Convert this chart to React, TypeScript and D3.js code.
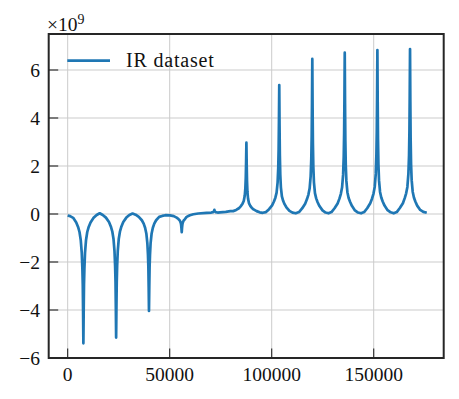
import * as d3 from "d3";

// IR dataset, values in units of 1e9
const dipSection: [number, number][] = [
  [0, -0.06], [1200, -0.09], [2700, -0.16], [4200, -0.35], [5100, -0.54], [5800, -0.75],
  [6400, -1.08], [6900, -1.62], [7200, -2.26], [7400, -2.96], [7550, -4.04], [7700, -5.39],
  [7850, -4.04], [8000, -2.96], [8200, -2.26], [8500, -1.62], [9000, -1.08], [9600, -0.75],
  [10300, -0.54], [11200, -0.35], [12700, -0.16], [14200, -0.04], [15700, 0.03],
  [17200, -0.04], [18750, -0.15], [20250, -0.33], [21150, -0.52], [21850, -0.72],
  [22450, -1.03], [22950, -1.55], [23250, -2.16], [23450, -2.83], [23600, -3.86],
  [23750, -5.15], [23900, -3.86], [24050, -2.83], [24250, -2.16], [24550, -1.55],
  [25050, -1.03], [25650, -0.72], [26350, -0.52], [27250, -0.33], [28750, -0.15],
  [30250, -0.04], [31800, 0.02],
  [33300, -0.03], [34850, -0.12], [36350, -0.26], [37250, -0.4], [37950, -0.57],
  [38550, -0.81], [39050, -1.21], [39350, -1.7], [39550, -2.22], [39700, -3.03],
  [39850, -4.04], [40000, -3.03], [40150, -2.22], [40350, -1.7], [40650, -1.21],
  [41150, -0.81], [41750, -0.57], [42450, -0.4], [43350, -0.26], [44850, -0.12],
  [46350, -0.08], [47900, -0.05], [50150, -0.06],
  [52000, -0.09], [53400, -0.15], [54300, -0.21], [55000, -0.28], [55400, -0.36],
  [55600, -0.45], [55750, -0.58], [55900, -0.76], [56050, -0.58], [56200, -0.45],
  [56400, -0.36], [56800, -0.28], [57500, -0.21], [58300, -0.12], [59900, -0.05],
  [61600, -0.01], [64000, 0.02], [68100, 0.05],
];

const flatSection: [number, number][] = [
  [70400, 0.06], [71300, 0.08], [71700, 0.11], [71900, 0.17], [72100, 0.11], [72500, 0.08],
  [73500, 0.06], [74700, 0.07], [77500, 0.09], [79700, 0.12], [81100, 0.12],
];

const peakSection: [number, number][] = [
  [82600, 0.17], [84100, 0.25], [85000, 0.34], [85700, 0.43], [86300, 0.54], [86800, 0.77],
  [87100, 1.09], [87300, 1.53], [87450, 2.16], [87600, 2.97], [87750, 2.04], [87900, 1.37],
  [88100, 0.93], [88400, 0.64], [88900, 0.44], [89500, 0.34], [90200, 0.26], [91100, 0.19],
  [92600, 0.12], [94100, 0.07], [95600, 0.05],
  [97200, 0.08], [98700, 0.2], [100200, 0.36], [101100, 0.52], [101800, 0.68], [102400, 0.89],
  [102900, 1.32], [103200, 1.91], [103400, 2.71], [103550, 3.88], [103700, 5.37],
  [103850, 3.66], [104000, 2.44], [104200, 1.64], [104500, 1.11], [105000, 0.73],
  [105600, 0.55], [106300, 0.41], [107200, 0.28], [108700, 0.13], [110200, 0.06], [111800, 0.03],
  [113400, 0.08], [114900, 0.23], [116400, 0.43], [117300, 0.62], [118000, 0.81], [118600, 1.07],
  [119100, 1.58], [119400, 2.29], [119600, 3.25], [119750, 4.66], [119900, 6.46],
  [120050, 4.41], [120200, 2.93], [120400, 1.97], [120700, 1.32], [121200, 0.87],
  [121800, 0.65], [122500, 0.49], [123400, 0.33], [124900, 0.15], [126400, 0.06], [127850, 0.03],
  [129300, 0.08], [130800, 0.24], [132300, 0.44], [133200, 0.64], [133900, 0.84], [134500, 1.11],
  [135000, 1.64], [135300, 2.38], [135500, 3.38], [135650, 4.85], [135800, 6.72],
  [135950, 4.58], [136100, 3.05], [136300, 2.04], [136600, 1.38], [137100, 0.91],
  [137700, 0.67], [138400, 0.51], [139300, 0.34], [140800, 0.15], [142300, 0.06], [143800, 0.03],
  [145300, 0.08], [146800, 0.24], [148300, 0.45], [149200, 0.65], [149900, 0.85], [150500, 1.13],
  [151000, 1.67], [151300, 2.42], [151500, 3.44], [151650, 4.93], [151800, 6.83],
  [151950, 4.66], [152100, 3.1], [152300, 2.08], [152600, 1.4], [153100, 0.92],
  [153700, 0.69], [154400, 0.52], [155300, 0.35], [156800, 0.16], [158300, 0.07], [159800, 0.03],
  [161300, 0.08], [162800, 0.25], [164300, 0.45], [165200, 0.66], [165900, 0.86], [166500, 1.13],
  [167000, 1.68], [167300, 2.43], [167500, 3.46], [167650, 4.96], [167800, 6.875],
  [167950, 4.69], [168100, 3.12], [168300, 2.09], [168600, 1.41], [169100, 0.93],
  [169700, 0.69], [170400, 0.52], [171300, 0.35], [172800, 0.17], [174300, 0.09], [176000, 0.05],
];

const xTicks = [0, 50000, 100000, 150000];
const yTicks = [-6, -4, -2, 0, 2, 4, 6];
const seriesName = "IR dataset";

const W = 459;
const H = 399;
const plot = { left: 48.7, right: 443.7, top: 34, bottom: 358 };
const font = "'Liberation Serif', 'DejaVu Serif', 'Times New Roman', serif";
const ink = "#262626";

export default function App() {
  const x = d3.scaleLinear().domain([-9300, 184300]).range([plot.left, plot.right]);
  const y = d3.scaleLinear().domain([-6, 7.5]).range([plot.bottom, plot.top]);

  const points = [...dipSection, ...flatSection, ...peakSection];
  const line = d3
    .line<[number, number]>()
    .x((d) => x(d[0]))
    .y((d) => y(d[1]));

  const fmtY = (v: number) => (v < 0 ? "\u2212" + Math.abs(v) : String(v));
  const textStyle = { fontFamily: font, fontSize: "19.5px" };

  return (
    <svg
      width={W}
      height={H}
      style={{ position: "absolute", left: 0, top: 0, background: "#fff" }}
    >
      <defs>
        <clipPath id="plotclip">
          <rect
            x={plot.left}
            y={plot.top}
            width={plot.right - plot.left}
            height={plot.bottom - plot.top}
          />
        </clipPath>
      </defs>

      {/* grid */}
      <g stroke="#cbcbcb" strokeWidth={1}>
        {xTicks.map((t) => (
          <line key={"gx" + t} x1={x(t)} x2={x(t)} y1={plot.top} y2={plot.bottom} />
        ))}
        {yTicks.map((t) => (
          <line key={"gy" + t} x1={plot.left} x2={plot.right} y1={y(t)} y2={y(t)} />
        ))}
      </g>

      {/* data */}
      <path
        d={line(points) ?? ""}
        fill="none"
        stroke="#1f77b4"
        strokeWidth={2.7}
        strokeLinejoin="round"
        clipPath="url(#plotclip)"
      />

      {/* ticks, pointing inward */}
      <g stroke={ink} strokeWidth={1.1}>
        {xTicks.map((t) => (
          <line key={"tx" + t} x1={x(t)} x2={x(t)} y1={plot.bottom} y2={plot.bottom - 9.5} />
        ))}
        {yTicks.map((t) => (
          <line key={"ty" + t} x1={plot.left} x2={plot.left + 9.5} y1={y(t)} y2={y(t)} />
        ))}
      </g>

      {/* frame */}
      <rect
        x={plot.left}
        y={plot.top}
        width={plot.right - plot.left}
        height={plot.bottom - plot.top}
        fill="none"
        stroke={ink}
        strokeWidth={2}
      />

      {/* tick labels */}
      <g style={textStyle} fill="#111">
        {xTicks.map((t) => (
          <text key={"lx" + t} x={x(t)} y={381} textAnchor="middle">
            {String(t)}
          </text>
        ))}
        {yTicks.map((t) => (
          <text key={"ly" + t} x={40} y={y(t) + 6.5} textAnchor="end">
            {fmtY(t)}
          </text>
        ))}
      </g>

      {/* offset text */}
      <text x={47} y={30.7} style={textStyle} fill="#111">
        ×10
        <tspan style={{ fontSize: "14px" }} dy={-7}>
          9
        </tspan>
      </text>

      {/* legend */}
      <line x1={67.3} x2={110} y1={60.7} y2={60.7} stroke="#1f77b4" strokeWidth={2.7} />
      <text
        x={126}
        y={66.8}
        style={{ fontFamily: font, fontSize: "20px", letterSpacing: "0.8px" }}
        fill="#111"
      >
        {seriesName}
      </text>
    </svg>
  );
}
